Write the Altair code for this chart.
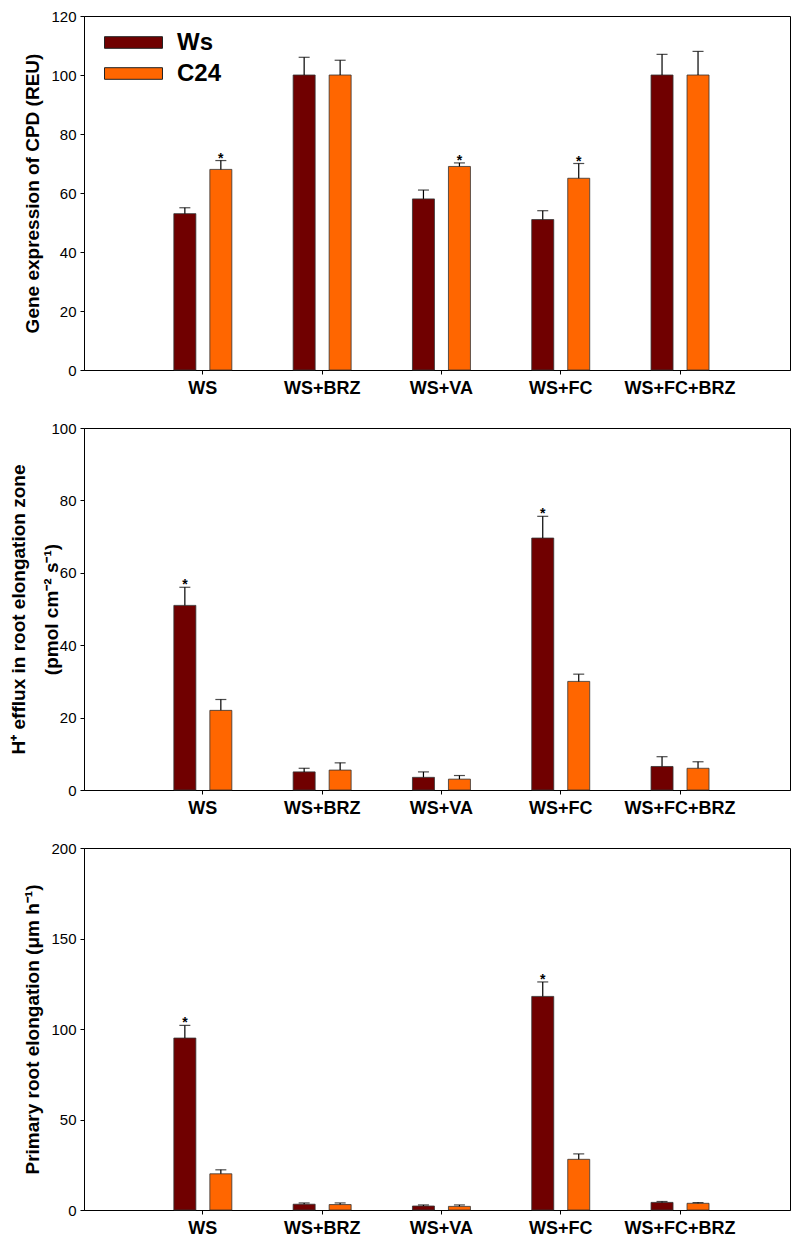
import altair as alt
import pandas as pd

categories = ["WS", "WS+BRZ", "WS+VA", "WS+FC", "WS+FC+BRZ"]
series = ["Ws", "C24"]
colors = ["#700000", "#FF6600"]

# Panel 1: gene expression of CPD (REU)
cpd_ws = [53, 100, 58, 51, 100]
cpd_ws_err = [2, 6, 3, 3, 7]
cpd_ws_star = [0, 0, 0, 0, 0]
cpd_c24 = [68, 100, 69, 65, 100]
cpd_c24_err = [3, 5, 1.2, 5, 8]
cpd_c24_star = [1, 0, 1, 1, 0]

# Panel 2: H+ efflux
hf_ws = [51, 5, 3.5, 69.6, 6.5]
hf_ws_err = [5, 1, 1.5, 6, 2.7]
hf_ws_star = [1, 0, 0, 1, 0]
hf_c24 = [22, 5.5, 3, 30, 6]
hf_c24_err = [3, 2, 1, 2, 1.8]
hf_c24_star = [0, 0, 0, 0, 0]

# Panel 3: primary root elongation
re_ws = [95, 3.2, 2.2, 118, 4.2]
re_ws_err = [7, 0.7, 0.6, 8, 0.5]
re_ws_star = [1, 0, 0, 1, 0]
re_c24 = [20, 3, 2, 28, 3.7]
re_c24_err = [2.2, 0.9, 0.8, 3, 0.4]
re_c24_star = [0, 0, 0, 0, 0]

FONT = "Liberation Sans"


def build_df(ws, ws_err, ws_star, c24, c24_err, c24_star):
    rows = []
    for i, c in enumerate(categories):
        rows.append(dict(cat=c, series="Ws", value=ws[i], top=ws[i] + ws_err[i],
                         star="*" if ws_star[i] else ""))
        rows.append(dict(cat=c, series="C24", value=c24[i], top=c24[i] + c24_err[i],
                         star="*" if c24_star[i] else ""))
    return pd.DataFrame(rows)


def panel(df, ymax, ystep, title, title_x, height=362, line_height=22, legend=False):
    x = alt.X("cat:N", sort=categories,
              scale=alt.Scale(paddingInner=0.514, paddingOuter=0.716, align=0.526),
              axis=alt.Axis(title=None, labelAngle=0, labelFont=FONT, labelFontSize=18,
                            labelFontWeight="bold", labelColor="black", tickSize=4,
                            tickColor="black", labelPadding=5, domainColor="black",
                            domainWidth=1))
    xo = alt.XOffset("series:N", sort=series,
                     scale=alt.Scale(domain=series, paddingInner=0.389, paddingOuter=0))
    yscale = alt.Scale(domain=[0, ymax], nice=False, zero=True)
    yaxis = alt.Axis(values=list(range(0, ymax + 1, ystep)), title=title, grid=False,
                     labelFont=FONT, labelFontSize=15, labelColor="black",
                     tickSize=4, tickColor="black", labelPadding=4,
                     domainColor="black", domainWidth=1,
                     titleFont=FONT, titleFontSize=19, titleFontWeight="bold",
                     titleColor="black", titleBaseline="bottom", titleX=title_x,
                     titleLineHeight=line_height)
    if legend:
        leg = alt.Legend(title=None, orient="none", legendX=37, legendY=14,
                         symbolType="M-2.5,-0.5H2.5V0.5H-2.5Z", symbolSize=538,
                         symbolStrokeColor="#222222", symbolStrokeWidth=1,
                         symbolOpacity=1,
                         labelFont=FONT, labelFontSize=24, labelFontWeight="bold",
                         labelColor="black", labelOffset=31, rowPadding=6, padding=0)
    else:
        leg = None
    color = alt.Color("series:N", sort=series,
                      scale=alt.Scale(domain=series, range=colors), legend=leg)
    base = alt.Chart(df)
    bars = base.mark_bar(stroke="#333333", strokeWidth=0.8, opacity=1).encode(
        x=x, xOffset=xo, y=alt.Y("value:Q", scale=yscale, axis=yaxis), color=color)
    rule = base.mark_rule(color="black", strokeWidth=1.2).encode(
        x=x, xOffset=xo, y=alt.Y("value:Q", scale=yscale, axis=yaxis), y2="top:Q")
    cap = base.mark_tick(color="black", size=11, thickness=1.2, orient="horizontal").encode(
        x=x, xOffset=xo, y=alt.Y("top:Q", scale=yscale, axis=yaxis))
    star = base.transform_filter("datum.star != ''").mark_text(
        font=FONT, fontSize=14, fontWeight="bold", color="black",
        baseline="middle", align="center", dy=-2).encode(
        x=x, xOffset=xo, y=alt.Y("top:Q", scale=yscale, axis=yaxis), text="star:N")
    return alt.layer(bars, rule, cap, star).properties(width=706, height=height)


p1 = panel(build_df(cpd_ws, cpd_ws_err, cpd_ws_star, cpd_c24, cpd_c24_err, cpd_c24_star),
           120, 20, "Gene expression of CPD (REU)", -42, height=354, legend=True)
p2 = panel(build_df(hf_ws, hf_ws_err, hf_ws_star, hf_c24, hf_c24_err, hf_c24_star),
           100, 20, ["H\u207a efflux in root elongation zone", "(pmol cm\u207b\u00b2 s\u207b\u00b9)"],
           -56, line_height=33)
p3 = panel(build_df(re_ws, re_ws_err, re_ws_star, re_c24, re_c24_err, re_c24_star),
           200, 50, "Primary root elongation (\u03bcm h\u207b\u00b9)", -42)

chart = alt.vconcat(p1, p2, p3, spacing=22).resolve_scale(color="independent").properties(
    padding={"left": 0, "top": 0, "right": 0, "bottom": 0}
).configure(font=FONT).configure_view(stroke="black", strokeWidth=1)

chart.save("out.html", embed_options={"renderer": "svg", "actions": False})
